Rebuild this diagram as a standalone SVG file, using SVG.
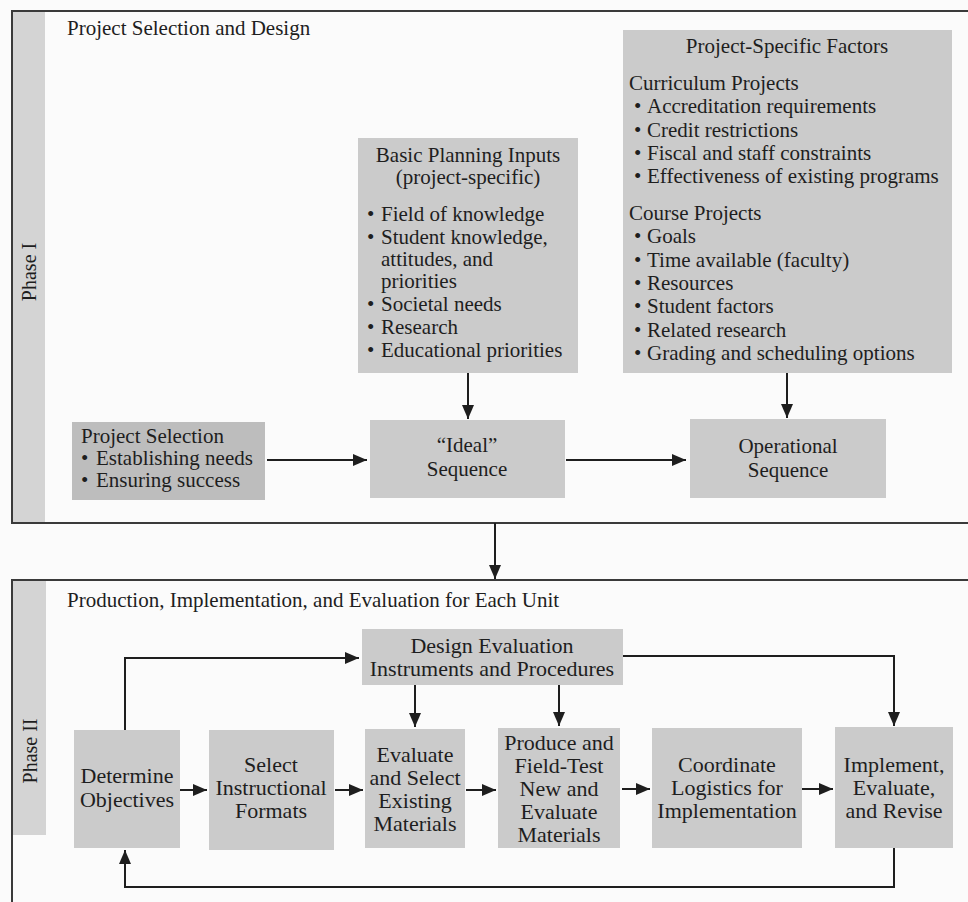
<svg xmlns="http://www.w3.org/2000/svg" width="968" height="902" viewBox="0 0 968 902">
<style>
text{font-family:"Liberation Serif","Times New Roman",serif;fill:#1e1e1e}
.t{font-size:21px}
.p2{font-size:22px;text-anchor:middle}
.c{text-anchor:middle}
.box{fill:#cbcbcb}
.dark{fill:#bdbdbd}
.strip{fill:#d4d4d4}
.border{stroke:#3a3a3a;stroke-width:2;fill:none}
.con{stroke:#1e1e1e;stroke-width:2;fill:none;marker-end:url(#ah)}
.lbl{font-size:20px;text-anchor:middle}
</style>
<defs>
<marker id="ah" viewBox="0 0 14 12" refX="14" refY="6" markerWidth="14" markerHeight="12" markerUnits="userSpaceOnUse" orient="auto">
<path d="M0,0 L14,6 L0,12 z" fill="#1e1e1e"/>
</marker>
</defs>
<rect x="0" y="0" width="968" height="902" fill="#fbfbfb"/>

<g id="phase1">
<rect class="strip" x="12" y="11" width="33" height="512"/>
<path class="border" d="M968,11 H12 V523 H968"/>
<text class="lbl" transform="translate(36,272) rotate(-90)">Phase I</text>
<text class="t" x="67" y="35">Project Selection and Design</text>
</g>

<g id="phase2">
<rect class="strip" x="12" y="580" width="34" height="255"/>
<path class="border" d="M968,580 H12 V902"/>
<text class="lbl" transform="translate(37,751) rotate(-90)">Phase II</text>
<text class="t" x="67" y="607">Production, Implementation, and Evaluation for Each Unit</text>
</g>

<g id="basic-planning-inputs">
<rect class="box" x="358" y="138" width="220" height="235"/>
<text class="t c" x="468" y="162">Basic Planning Inputs</text>
<text class="t c" x="468" y="184">(project-specific)</text>
<text class="t" x="367" y="221">•</text><text class="t" x="381" y="221">Field of knowledge</text>
<text class="t" x="367" y="244">•</text><text class="t" x="381" y="244">Student knowledge,</text>
<text class="t" x="381" y="266">attitudes, and</text>
<text class="t" x="381" y="288">priorities</text>
<text class="t" x="367" y="311">•</text><text class="t" x="381" y="311">Societal needs</text>
<text class="t" x="367" y="334">•</text><text class="t" x="381" y="334">Research</text>
<text class="t" x="367" y="357">•</text><text class="t" x="381" y="357">Educational priorities</text>
</g>

<g id="project-specific-factors">
<rect class="box" x="623" y="30" width="329" height="343"/>
<text class="t c" x="787" y="53">Project-Specific Factors</text>
<text class="t" x="629" y="90">Curriculum Projects</text>
<text class="t" x="634" y="113">•</text><text class="t" x="647" y="113">Accreditation requirements</text>
<text class="t" x="634" y="137">•</text><text class="t" x="647" y="137">Credit restrictions</text>
<text class="t" x="634" y="160">•</text><text class="t" x="647" y="160">Fiscal and staff constraints</text>
<text class="t" x="634" y="183">•</text><text class="t" x="647" y="183">Effectiveness of existing programs</text>
<text class="t" x="629" y="220">Course Projects</text>
<text class="t" x="634" y="243">•</text><text class="t" x="647" y="243">Goals</text>
<text class="t" x="634" y="267">•</text><text class="t" x="647" y="267">Time available (faculty)</text>
<text class="t" x="634" y="290">•</text><text class="t" x="647" y="290">Resources</text>
<text class="t" x="634" y="313">•</text><text class="t" x="647" y="313">Student factors</text>
<text class="t" x="634" y="337">•</text><text class="t" x="647" y="337">Related research</text>
<text class="t" x="634" y="360">•</text><text class="t" x="647" y="360">Grading and scheduling options</text>
</g>

<g id="project-selection">
<rect class="dark" x="72" y="422" width="193" height="78"/>
<text class="t" x="81" y="443">Project Selection</text>
<text class="t" x="81" y="465">•</text><text class="t" x="96" y="465">Establishing needs</text>
<text class="t" x="81" y="487">•</text><text class="t" x="96" y="487">Ensuring success</text>
</g>

<g id="ideal-sequence">
<rect class="box" x="370" y="420" width="195" height="78"/>
<text class="t c" x="467" y="452">“Ideal”</text>
<text class="t c" x="467" y="476">Sequence</text>
</g>

<g id="operational-sequence">
<rect class="box" x="690" y="419" width="196" height="79"/>
<text class="t c" x="788" y="453">Operational</text>
<text class="t c" x="788" y="477">Sequence</text>
</g>

<g id="design-evaluation">
<rect class="box" x="362" y="629" width="261" height="56"/>
<text class="p2" x="492" y="653">Design Evaluation</text>
<text class="p2" x="492" y="676">Instruments and Procedures</text>
</g>

<g id="determine-objectives">
<rect class="box" x="74" y="730" width="106" height="118"/>
<text class="p2" x="127" y="783">Determine</text>
<text class="p2" x="127" y="807">Objectives</text>
</g>

<g id="select-formats">
<rect class="box" x="209" y="730" width="125" height="120"/>
<text class="p2" x="271" y="772">Select</text>
<text class="p2" x="271" y="795">Instructional</text>
<text class="p2" x="271" y="818">Formats</text>
</g>

<g id="evaluate-select">
<rect class="box" x="365" y="729" width="100" height="119"/>
<text class="p2" x="415" y="762">Evaluate</text>
<text class="p2" x="415" y="785">and Select</text>
<text class="p2" x="415" y="808">Existing</text>
<text class="p2" x="415" y="831">Materials</text>
</g>

<g id="produce-field-test">
<rect class="box" x="498" y="728" width="122" height="120"/>
<text class="p2" x="559" y="750">Produce and</text>
<text class="p2" x="559" y="773">Field-Test</text>
<text class="p2" x="559" y="796">New and</text>
<text class="p2" x="559" y="819">Evaluate</text>
<text class="p2" x="559" y="842">Materials</text>
</g>

<g id="coordinate-logistics">
<rect class="box" x="652" y="728" width="150" height="120"/>
<text class="p2" x="727" y="772">Coordinate</text>
<text class="p2" x="727" y="795">Logistics for</text>
<text class="p2" x="727" y="818">Implementation</text>
</g>

<g id="implement-evaluate-revise">
<rect class="box" x="835" y="727" width="118" height="121"/>
<text class="p2" x="894" y="772">Implement,</text>
<text class="p2" x="894" y="795">Evaluate,</text>
<text class="p2" x="894" y="818">and Revise</text>
</g>

<g id="connectors">
<path class="con" d="M468,373 V419"/>
<path class="con" d="M787,373 V418"/>
<path class="con" d="M267,460 H367"/>
<path class="con" d="M566,460 H686"/>
<path class="con" d="M495,523 V579"/>
<path class="con" d="M125,730 V658 H359"/>
<path class="con" d="M623,656 H894 V726"/>
<path class="con" d="M415,685 V727"/>
<path class="con" d="M559,685 V726"/>
<path class="con" d="M180,790 H207"/>
<path class="con" d="M335,790 H363"/>
<path class="con" d="M466,790 H496"/>
<path class="con" d="M622,789 H650"/>
<path class="con" d="M802,789 H833"/>
<path class="con" d="M894,848 V887 H125 V850"/>
</g>
</svg>
